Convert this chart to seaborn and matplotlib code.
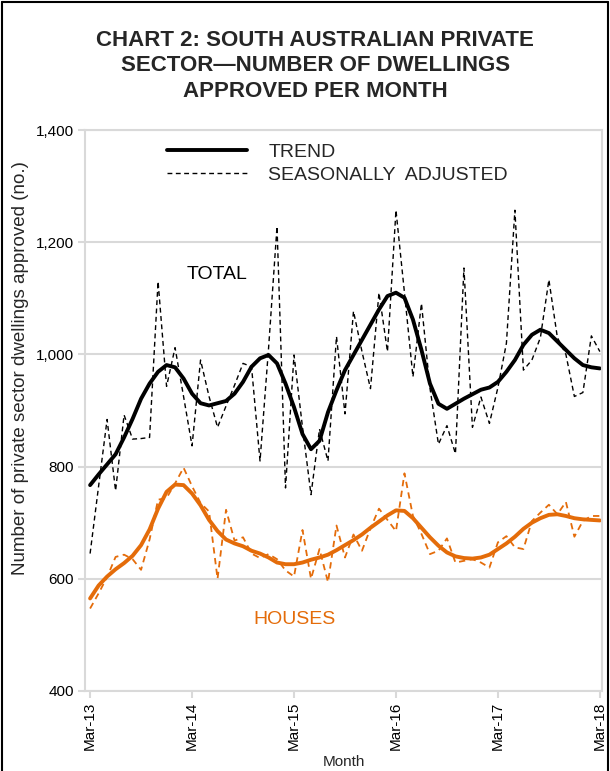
import numpy as np
import pandas as pd
import matplotlib
matplotlib.use('Agg')
import matplotlib.pyplot as plt
import seaborn as sns
from matplotlib.lines import Line2D

# monthly data, Mar-13 to Mar-18
months = pd.date_range('2013-03-01', periods=61, freq='MS')
tick_labels = ['Mar-13', 'Mar-14', 'Mar-15', 'Mar-16', 'Mar-17', 'Mar-18']

total_sa = [645, 765, 884, 757, 892, 849, 850, 852, 1130, 943,
            1012, 925, 837, 990, 925, 870, 908, 945, 984, 978,
            810, 1010, 1228, 762, 999, 870, 750, 867, 810, 1032,
            894, 1077, 1005, 939, 1110, 1005, 1257, 1110, 960, 1091,
            940, 840, 873, 823, 1154, 870, 924, 877, 941, 1020,
            1257, 972, 990, 1030, 1133, 1030, 1000, 925, 932, 1033, 1005]
total_trend = [767, 786, 804, 822, 852, 885, 921, 948, 969, 981,
               977, 957, 930, 913, 909, 913, 917, 930, 951, 978,
               993, 999, 984, 948, 906, 858, 831, 846, 897, 936,
               972, 999, 1026, 1053, 1080, 1104, 1110, 1101, 1062, 1008,
               948, 912, 903, 912, 921, 929, 937, 941, 951, 969,
               990, 1017, 1035, 1044, 1038, 1023, 1008, 993, 981, 977, 975]
houses_sa = [547, 574, 603, 639, 643, 635, 616, 670, 741, 744,
             770, 798, 765, 735, 720, 600, 723, 668, 674, 645,
             637, 644, 635, 615, 604, 687, 600, 653, 594, 695,
             638, 679, 650, 690, 725, 705, 685, 788, 712, 680,
             644, 650, 672, 629, 632, 635, 629, 620, 665, 676,
             656, 653, 703, 718, 732, 715, 737, 675, 703, 712, 712]
houses_trend = [565, 588, 604, 617, 628, 641, 660, 688, 725, 755,
                768, 767, 752, 731, 705, 685, 670, 663, 658, 650,
                645, 638, 629, 626, 626, 629, 634, 638, 643, 651,
                660, 669, 679, 691, 702, 713, 722, 721, 708, 691,
                674, 659, 647, 640, 637, 636, 638, 643, 653, 663,
                675, 689, 700, 708, 714, 715, 712, 708, 706, 705, 704]

df = pd.DataFrame({'month': np.arange(len(months)),
                   'total_sa': total_sa, 'total_trend': total_trend,
                   'houses_sa': houses_sa, 'houses_trend': houses_trend})

sns.set_theme(style='white')
plt.rcParams['font.family'] = ['Liberation Sans', 'DejaVu Sans']

orange = '#E46C0A'
grid_c = '#d9d9d9'
dash = (0, (3.5, 2.5))

fig = plt.figure(figsize=(6.1, 7.71), dpi=100)
ax = fig.add_axes([85 / 610, 1 - 691 / 771, 517 / 610, 561 / 771])

sns.lineplot(data=df, x='month', y='total_sa', ax=ax, color='black', lw=1.0,
             linestyle=dash)
sns.lineplot(data=df, x='month', y='houses_sa', ax=ax, color=orange, lw=1.3,
             linestyle=dash)
sns.lineplot(data=df, x='month', y='houses_trend', ax=ax, color=orange, lw=2.8)
sns.lineplot(data=df, x='month', y='total_trend', ax=ax, color='black', lw=2.8)

ax.set_ylim(400, 1400)
ax.set_xlim(-0.6, 60.25)
ax.set_yticks(range(400, 1401, 200))
ax.set_yticklabels([f'{v:,}' for v in range(400, 1401, 200)], fontsize=11)
ax.set_xticks(range(0, 61, 12))
ax.set_xticklabels(tick_labels, rotation=90, fontsize=11)
ax.grid(axis='y', color=grid_c, lw=1.5)
ax.set_axisbelow(True)
for s in ax.spines.values():
    s.set_color(grid_c)
    s.set_linewidth(1.5)
ax.tick_params(axis='both', which='major', length=5, width=1.5, color=grid_c,
               direction='out', pad=3, labelcolor='black')
ax.tick_params(axis='y', left=True)
ax.tick_params(axis='x', bottom=True)

ax.set_xlabel('Month', fontsize=11, labelpad=3)
ax.set_ylabel('Number of private sector dwellings approved (no.)', fontsize=13.5,
              labelpad=8)
ax.yaxis.set_label_coords(-0.108, 0.575)

ax.text(0.197, 0.742, 'TOTAL', transform=ax.transAxes, fontsize=14,
        color='black', va='center', ha='left')
ax.text(0.325, 0.128, 'HOUSES', transform=ax.transAxes, fontsize=14,
        color=orange, va='center', ha='left')

handles = [Line2D([], [], color='black', lw=2.8),
           Line2D([], [], color='black', lw=1.0, linestyle=dash)]
ax.legend(handles, ['TREND', 'SEASONALLY  ADJUSTED'], loc='upper left',
          bbox_to_anchor=(0.133, 1.0), frameon=False, fontsize=14,
          handlelength=4.1, handletextpad=1.1, labelspacing=0.25,
          borderaxespad=0.3)

fig.text(0.517, 1 - 30 / 771,
         'CHART 2: SOUTH AUSTRALIAN PRIVATE\nSECTOR\u2014NUMBER OF DWELLINGS\nAPPROVED PER MONTH',
         ha='center', va='top', fontsize=16, fontweight='bold', linespacing=1.27)

# outer chart border
for xs, ys in [([0.004, 0.004], [0, 0.997]), ([0.004, 0.996], [0.997, 0.997]),
               ([0.996, 0.996], [0, 0.997])]:
    fig.add_artist(Line2D(xs, ys, color='black', lw=1.5, transform=fig.transFigure))

fig.savefig('out.png', dpi=100)
